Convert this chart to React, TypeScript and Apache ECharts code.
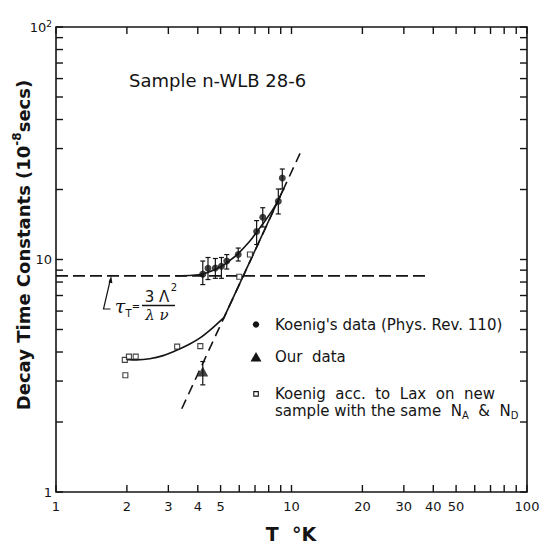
import React, { useEffect, useRef } from "react";
import * as echarts from "echarts";

// Koenig's data (filled circles) with error bars
const koenigT = [4.2, 4.42, 4.75, 5.04, 5.31, 5.94, 7.11, 7.55, 8.79, 9.14];
const koenigTau = [8.65, 9.17, 9.2, 9.35, 9.85, 10.5, 13.2, 15.2, 17.8, 22.4];
const koenigLow = [7.8, 8.2, 8.3, 8.3, 9.1, 9.85, 11.6, 13.8, 15.7, 20.1];
const koenigHigh = [9.85, 10.2, 10.1, 10.2, 10.5, 11.2, 14.7, 16.7, 20.1, 24.5];

// Our data (triangle)
const ourT = [4.2];
const ourTau = [3.3];
const ourLow = [2.89];
const ourHigh = [3.64];

// Koenig acc. to Lax (open squares)
const laxT = [1.96, 2.04, 2.18, 1.97, 3.27, 4.1, 6.0, 6.66];
const laxTau = [3.7, 3.82, 3.82, 3.18, 4.22, 4.24, 8.43, 10.5];

// Lines
const levelT = [1, 37];
const levelTau = [8.5, 8.5];
const steepT = [3.42, 10.87];
const steepTau = [2.28, 28.6];
const steepSolidT = [5.13, 9.2];
const steepSolidTau = [5.54, 19.9];
const upperT = [3.25, 3.8, 4.22, 4.6, 5.06, 5.5, 5.94, 6.66, 7.11, 7.7, 8.3, 8.79, 9.2];
const upperTau = [8.5, 8.55, 8.68, 8.95, 9.37, 9.95, 10.6, 12.0, 13.1, 14.6, 16.3, 18.0, 19.9];
const lowerT = [1.98, 2.2, 2.5, 2.85, 3.27, 3.7, 4.09, 4.6, 5.13];
const lowerTau = [3.72, 3.7, 3.74, 3.86, 4.08, 4.33, 4.6, 5.06, 5.6];

// Axis ticks and labels
const tickValues = [1, 2, 3, 4, 5, 6, 7, 8, 9, 10, 20, 30, 40, 50, 60, 70, 80, 90, 100];
const xTickLabels = [1, 2, 3, 4, 5, 10, 20, 30, 40, 50, 100];
const yTickLabels = [1, 10, 100];

const INK = "#141414";
const FONT = "DejaVu Sans";

const zip = (a: number[], b: number[]) => a.map((v, i) => [v, b[i]]);

export default function App() {
  const ref = useRef<HTMLDivElement>(null);
  useEffect(() => {
    if (!ref.current) return;
    const chart = echarts.init(ref.current, undefined, { renderer: "svg" });
    const TL = 7;
    const errRender = (params: any, api: any) => {
      const x = api.value(0);
      const a = api.coord([x, api.value(1)]);
      const b = api.coord([x, api.value(2)]);
      const w = 2.5;
      const st = { stroke: INK, lineWidth: 1.2 };
      return {
        type: "group",
        children: [
          { type: "line", shape: { x1: a[0], y1: a[1], x2: b[0], y2: b[1] }, style: st },
          { type: "line", shape: { x1: a[0] - w, y1: a[1], x2: a[0] + w, y2: a[1] }, style: st },
          { type: "line", shape: { x1: b[0] - w, y1: b[1], x2: b[0] + w, y2: b[1] }, style: st },
        ],
      };
    };
    const option: any = {
      animation: false,
      backgroundColor: "#ffffff",
      grid: {
        left: 56,
        right: 16,
        top: 27,
        bottom: 54,
        show: true,
        borderColor: INK,
        borderWidth: 1.6,
        backgroundColor: "transparent",
      },
      xAxis: {
        type: "log",
        logBase: 10,
        min: 1,
        max: 100,
        axisLine: { show: false },
        axisTick: { show: false },
        axisLabel: { show: false },
        splitLine: { show: false },
      },
      yAxis: {
        type: "log",
        logBase: 10,
        min: 1,
        max: 100,
        axisLine: { show: false },
        axisTick: { show: false },
        axisLabel: { show: false },
        splitLine: { show: false },
      },
      series: [
        {
          type: "custom",
          name: "xticks",
          clip: false,
          silent: true,
          data: tickValues.map((v) => [v, 1]),
          renderItem: (params: any, api: any) => {
            const v = api.value(0);
            const pb = api.coord([v, 1]);
            const pt = api.coord([v, 100]);
            const st = { stroke: INK, lineWidth: 1.4 };
            return {
              type: "group",
              children: [
                { type: "line", shape: { x1: pb[0], y1: pb[1], x2: pb[0], y2: pb[1] - TL }, style: st },
                { type: "line", shape: { x1: pt[0], y1: pt[1], x2: pt[0], y2: pt[1] + TL }, style: st },
              ],
            };
          },
        },
        {
          type: "custom",
          name: "yticks",
          clip: false,
          silent: true,
          data: tickValues.map((v) => [1, v]),
          renderItem: (params: any, api: any) => {
            const v = api.value(1);
            const pl = api.coord([1, v]);
            const pr = api.coord([100, v]);
            const st = { stroke: INK, lineWidth: 1.4 };
            return {
              type: "group",
              children: [
                { type: "line", shape: { x1: pl[0], y1: pl[1], x2: pl[0] + TL, y2: pl[1] }, style: st },
                { type: "line", shape: { x1: pr[0], y1: pr[1], x2: pr[0] - TL, y2: pr[1] }, style: st },
              ],
            };
          },
        },
        {
          type: "custom",
          name: "xlabels",
          clip: false,
          silent: true,
          data: xTickLabels.map((v) => [v, 1]),
          renderItem: (params: any, api: any) => {
            const v = api.value(0);
            const p = api.coord([v, 1]);
            return {
              type: "text",
              x: p[0],
              y: p[1] + 8,
              style: {
                text: String(v),
                fill: INK,
                fontSize: 13,
                fontFamily: FONT,
                align: "center",
                verticalAlign: "top",
              },
            };
          },
        },
        {
          type: "custom",
          name: "ylabels",
          clip: false,
          silent: true,
          data: yTickLabels.map((v) => [1, v]),
          renderItem: (params: any, api: any) => {
            const v = api.value(1);
            const p = api.coord([1, v]);
            const txt = v === 100 ? "{a|10}{s|2}" : "{a|" + String(v) + "}";
            return {
              type: "text",
              x: p[0] - 4,
              y: p[1],
              style: {
                text: txt,
                fill: INK,
                align: "right",
                verticalAlign: "middle",
                rich: {
                  a: { fontSize: 13, fontFamily: FONT, fill: INK, lineHeight: 16 },
                  s: { fontSize: 9, fontFamily: FONT, fill: INK, verticalAlign: "top" },
                },
              },
            };
          },
        },
        {
          type: "line",
          name: "tauT",
          data: zip(levelT, levelTau),
          symbol: "none",
          lineStyle: { color: INK, width: 1.6, type: [12, 5] },
          z: 2,
        },
        {
          type: "line",
          name: "steep",
          data: zip(steepT, steepTau),
          symbol: "none",
          lineStyle: { color: INK, width: 1.6, type: [10, 6] },
          z: 2,
        },
        {
          type: "line",
          name: "steepSolid",
          data: zip(steepSolidT, steepSolidTau),
          symbol: "none",
          lineStyle: { color: INK, width: 1.6 },
          z: 2,
        },
        {
          type: "line",
          name: "upper",
          data: zip(upperT, upperTau),
          symbol: "none",
          smooth: 0.3,
          lineStyle: { color: INK, width: 1.6 },
          z: 2,
        },
        {
          type: "line",
          name: "lower",
          data: zip(lowerT, lowerTau),
          symbol: "none",
          smooth: 0.3,
          lineStyle: { color: INK, width: 1.6 },
          z: 2,
        },
        {
          type: "custom",
          name: "koenigErr",
          data: koenigT.map((t, i) => [t, koenigLow[i], koenigHigh[i]]),
          encode: { x: 0, y: [1, 2] },
          renderItem: errRender,
          z: 3,
        },
        {
          type: "custom",
          name: "ourErr",
          data: ourT.map((t, i) => [t, ourLow[i], ourHigh[i]]),
          encode: { x: 0, y: [1, 2] },
          renderItem: errRender,
          z: 3,
        },
        {
          type: "scatter",
          name: "Koenig's data",
          data: zip(koenigT, koenigTau),
          symbol: "circle",
          symbolSize: 7,
          itemStyle: { color: INK },
          z: 4,
        },
        {
          type: "scatter",
          name: "Our data",
          data: zip(ourT, ourTau),
          symbol: "triangle",
          symbolSize: [11, 10],
          itemStyle: { color: INK },
          z: 4,
        },
        {
          type: "scatter",
          name: "Koenig acc. to Lax",
          data: zip(laxT, laxTau),
          symbol: "rect",
          symbolSize: 5,
          itemStyle: { color: "#ffffff", borderColor: INK, borderWidth: 1.1 },
          z: 4,
        },
      ],
      graphic: [
        {
          type: "text",
          x: 23,
          y: 245,
          rotation: Math.PI / 2,
          style: {
            text: "{a|Decay Time Constants (10}{s|-8}{a|secs)}",
            align: "center",
            verticalAlign: "middle",
            rich: {
              a: { fontSize: 18, fontFamily: FONT, fontWeight: "bold", fill: INK, lineHeight: 24 },
              s: { fontSize: 12, fontFamily: FONT, fontWeight: "bold", fill: INK, verticalAlign: "top" },
            },
          },
        },
        {
          type: "text",
          x: 291,
          y: 534,
          style: { text: "T  °K", fontSize: 19, fontWeight: "bold", fontFamily: FONT, fill: INK, align: "center", verticalAlign: "middle" },
        },
        {
          type: "text",
          x: 129,
          y: 80,
          style: { text: "Sample n-WLB 28-6", fontSize: 18, fontFamily: FONT, fill: INK, align: "left", verticalAlign: "middle" },
        },
        // legend
        { type: "circle", shape: { cx: 256, cy: 324.5, r: 3.2 }, style: { fill: INK } },
        {
          type: "polygon",
          shape: { points: [[250.5, 361.5], [261.5, 361.5], [256, 352]] },
          style: { fill: INK },
        },
        { type: "rect", shape: { x: 253.8, y: 391.6, width: 4.5, height: 4.5 }, style: { fill: "#fff", stroke: INK, lineWidth: 1.1 } },
        {
          type: "text",
          x: 275,
          y: 324.5,
          style: { text: "Koenig's data (Phys. Rev. 110)", fontSize: 15, fontFamily: FONT, fill: INK, verticalAlign: "middle" },
        },
        {
          type: "text",
          x: 275,
          y: 357,
          style: { text: "Our  data", fontSize: 15, fontFamily: FONT, fill: INK, verticalAlign: "middle" },
        },
        {
          type: "text",
          x: 275,
          y: 393.5,
          style: { text: "Koenig  acc.  to  Lax  on  new", fontSize: 15, fontFamily: FONT, fill: INK, verticalAlign: "middle" },
        },
        {
          type: "text",
          x: 275,
          y: 410.5,
          style: {
            text: "{a|sample with the same  N}{b|A}{a|  &  N}{b|D}",
            verticalAlign: "middle",
            rich: {
              a: { fontSize: 15, fontFamily: FONT, fill: INK, lineHeight: 20 },
              b: { fontSize: 10, fontFamily: FONT, fill: INK, verticalAlign: "bottom" },
            },
          },
        },
        // tau_T formula and pointer
        {
          type: "polyline",
          shape: { points: [[110.5, 309], [103.5, 309], [110.5, 279]] },
          style: { stroke: INK, lineWidth: 1.2, fill: "none" },
        },
        {
          type: "polygon",
          shape: { points: [[111.2, 275.5], [108.6, 282.5], [112.4, 283.3]] },
          style: { fill: INK },
        },
        {
          type: "text",
          x: 120,
          y: 306,
          style: { text: "τ", fontSize: 19, fontFamily: "DejaVu Serif", fontStyle: "italic", fill: INK, align: "center", verticalAlign: "middle" },
        },
        {
          type: "text",
          x: 128.5,
          y: 313,
          style: { text: "T", fontSize: 10, fontFamily: FONT, fill: INK, align: "center", verticalAlign: "middle" },
        },
        {
          type: "text",
          x: 136,
          y: 306,
          style: { text: "=", fontSize: 10, fontFamily: FONT, fill: INK, align: "center", verticalAlign: "middle" },
        },
        {
          type: "text",
          x: 157,
          y: 297,
          style: { text: "3 Λ", fontSize: 15, fontFamily: FONT, fill: INK, align: "center", verticalAlign: "middle" },
        },
        {
          type: "text",
          x: 174,
          y: 287,
          style: { text: "2", fontSize: 10, fontFamily: FONT, fill: INK, align: "center", verticalAlign: "middle" },
        },
        {
          type: "line",
          shape: { x1: 142, y1: 305.5, x2: 175, y2: 305.5 },
          style: { stroke: INK, lineWidth: 1.3 },
        },
        {
          type: "text",
          x: 157,
          y: 315,
          style: { text: "λ ν", fontSize: 15, fontFamily: "DejaVu Serif", fontStyle: "italic", fill: INK, align: "center", verticalAlign: "middle" },
        },
      ],
    };
    chart.setOption(option);
    return () => chart.dispose();
  }, []);
  return (
    <div
      ref={ref}
      style={{ position: "fixed", left: 0, top: 0, width: 543, height: 546, background: "#fff" }}
    />
  );
}
